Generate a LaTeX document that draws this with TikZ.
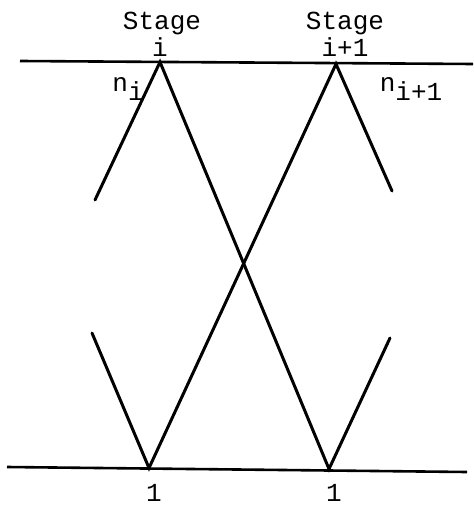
\documentclass[tikz,border=0pt]{standalone}
\usepackage{fontspec}
\setmainfont{Liberation Mono}
\begin{document}
\begin{tikzpicture}[x=1pt,y=-1pt,
  ln/.style={line width=3pt, line cap=round},
  axis/.style={line width=2.6pt},
  lbl/.style={font=\fontsize{26}{28}\selectfont, inner sep=0pt, anchor=base}]
\useasboundingbox (0,0) rectangle (473,505);
% horizontal lines
\coordinate (tl) at (20,61);
\coordinate (tr) at (473,64);
\coordinate (bl) at (7,467);
\coordinate (br) at (467,472);
\draw[axis] (tl) -- (tr);
\draw[axis] (bl) -- (br);
% vertices
\coordinate (ti) at (160,62);
\coordinate (tj) at (336,64);
\coordinate (bi) at (149,468);
\coordinate (bj) at (329,469);
% free ends
\coordinate (e1) at (95,200);
\coordinate (e2) at (392,191);
\coordinate (e3) at (92,333);
\coordinate (e4) at (390,338);
\draw[ln] (e1) -- (ti) -- (bj) -- (e4);
\draw[ln] (e3) -- (bi) -- (tj) -- (e2);
% labels
\node[lbl] (s1) at (162,30) {Stage};
\node[lbl] (s2) at (345,30) {Stage};
\node[lbl] (i1) at (160,57) {i};
\node[lbl] (i2) at (345,57) {i+1};
\node[lbl] (n1) at (128,92) {n\raisebox{-9pt}{i}};
\node[lbl] (n2) at (411,92) {n\raisebox{-9pt}{i+1}};
\node[lbl] (o1) at (154,501) {1};
\node[lbl] (o2) at (334,501) {1};
\end{tikzpicture}
\end{document}
